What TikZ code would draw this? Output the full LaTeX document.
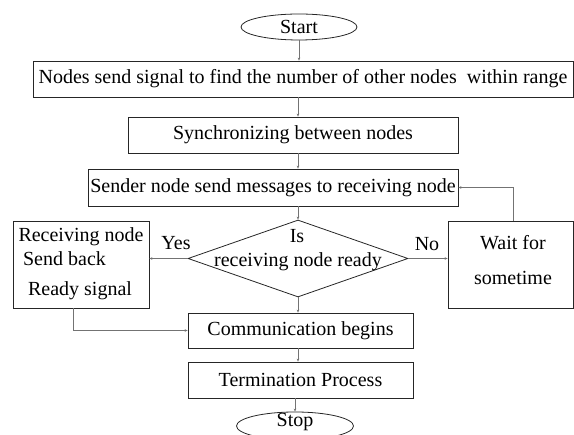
\documentclass[tikz,border=0pt]{standalone}
\usepackage{fontspec}
\setmainfont{Liberation Serif}
\usetikzlibrary{shapes.geometric,arrows.meta}
\begin{document}
\begin{tikzpicture}[x=1pt,y=-1pt,
  txt/.style={inner sep=0pt,font=\fontsize{20}{23}\selectfont},
  box/.style={txt,draw=black!85,line width=0.8pt},
  oval/.style={txt,ellipse,draw=black!85,line width=0.8pt},
  arr/.style={draw=black!55,line width=0.7pt,-{Stealth[length=3pt,width=2.6pt]}}]
\useasboundingbox (0,0) rectangle (574,435);
\node[oval,minimum width=116pt,minimum height=26pt] (start) at (299,27) {Start};
\node[box,minimum width=540pt,minimum height=36pt] (box1) at (303,79) {Nodes send signal to find the number of other nodes\ \ within range};
\node[box,minimum width=330pt,minimum height=36pt] (box2) at (293,135) {Synchronizing between nodes};
\node[box,minimum width=370pt,minimum height=37pt] (box3) at (273,187.5) {Sender node send messages to receiving node};
\node[draw=black!85,line width=0.8pt,diamond,inner sep=0pt,minimum width=220pt,minimum height=77pt,aspect=2.857] (dia) at (298,258.5) {};
\node[txt] (dia1) at (297,236) {Is};
\node[txt] (dia2) at (298,262) {receiving node ready};
\node[box,minimum width=136pt,minimum height=87pt] (left) at (81,264.5) {};
\node[txt] (l1) at (81,237) {Receiving node};
\node[txt] (l2) at (64.5,259) {Send back};
\node[txt] (l3) at (80,291) {Ready signal};
\node[box,minimum width=125pt,minimum height=87pt] (right) at (510.5,264.5) {};
\node[txt] (r1) at (513,243) {Wait for};
\node[txt] (r2) at (513,278) {sometime};
\node[box,minimum width=225pt,minimum height=35pt] (comm) at (300.5,330.5) {Communication begins};
\node[box,minimum width=225pt,minimum height=36pt] (term) at (300.5,380) {Termination Process};
\node[oval,minimum width=117pt,minimum height=28pt] (stop) at (295,426) {};
\node[txt] (stoptxt) at (295,422.5) {Stop};
\node[txt] (yes) at (176,243) {Yes};
\node[txt] (no) at (427,244) {No};
\coordinate (loopx) at (513,0);
\coordinate (rdx) at (73,0);
\draw[arr] (start.south) -- (start.south |- box1.north);
\draw[arr] (box1.south -| dia.north) -- (box2.north -| dia.north);
\draw[arr] (box2.south -| dia.north) -- (box3.north -| dia.north);
\draw[arr] (box3.south -| dia.north) -- (dia.north);
\draw[arr] (dia.south) -- (dia.south |- comm.north);
\draw[arr] (comm.south -| dia.south) -- (term.north -| dia.south);
\draw[arr] (term.south -| stop.north) -- (stop.north);
\draw[arr] (dia.west) -- (left.east |- dia.west);
\draw[arr] (dia.east) -- (right.west |- dia.east);
\draw[arr] (right.north -| loopx) |- (box3.east);
\draw[arr] (left.south -| rdx) |- (comm.west);
\end{tikzpicture}
\end{document}
